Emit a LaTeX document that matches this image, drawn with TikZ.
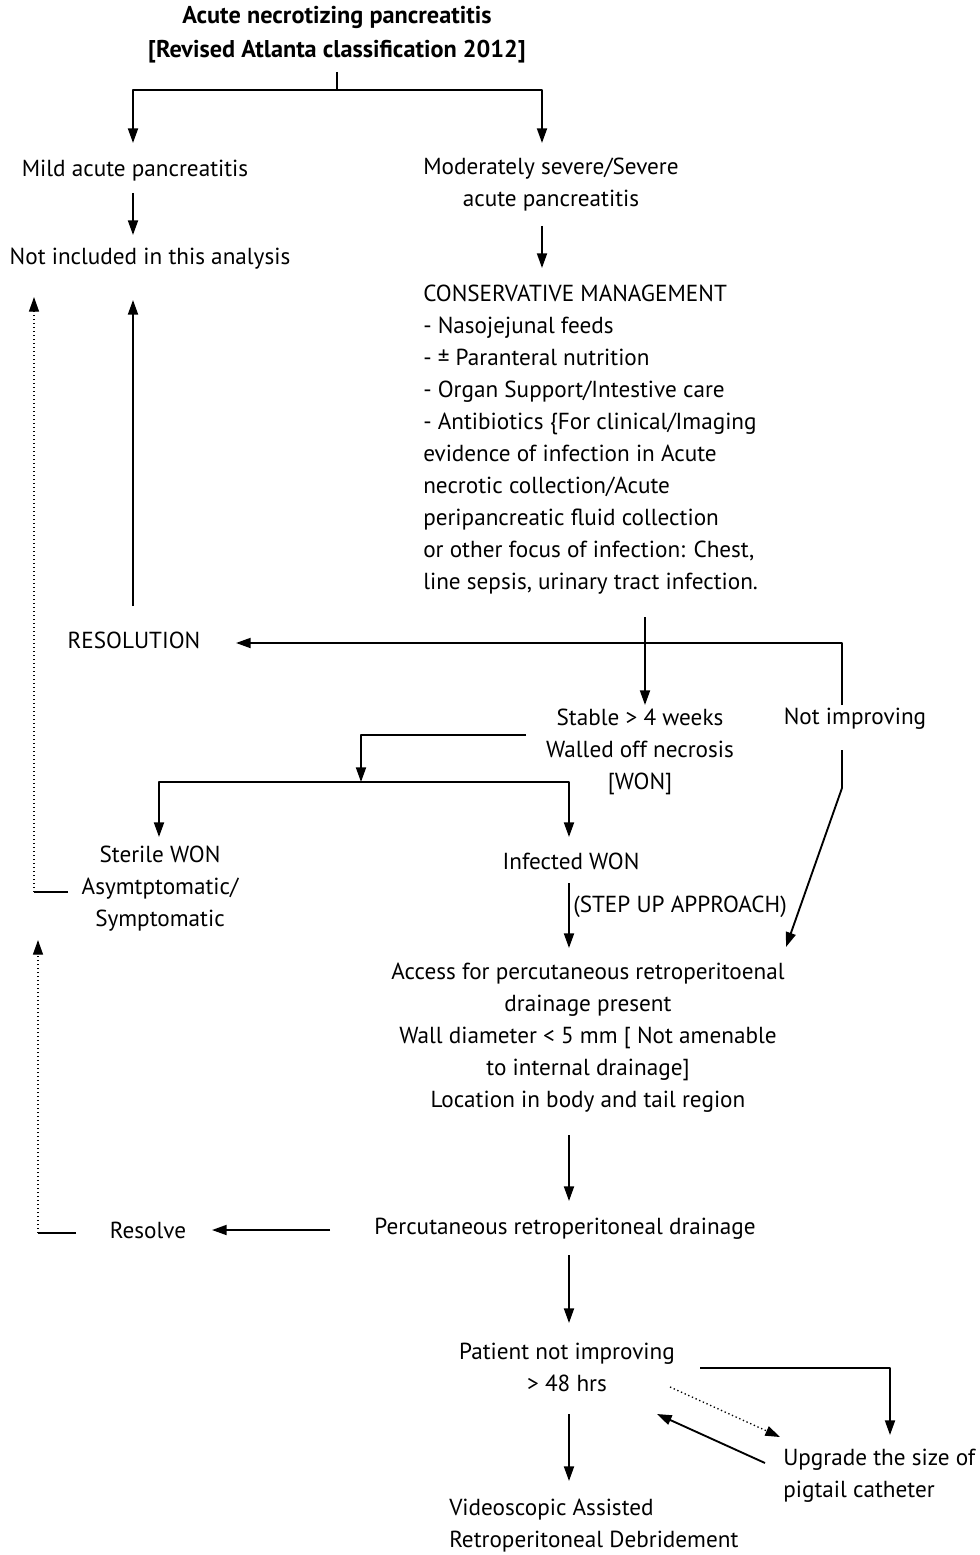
\documentclass[tikz,border=0pt]{standalone}
\usepackage{fontspec}
\setmainfont{PT Sans}
\usetikzlibrary{arrows.meta}

\begin{document}
\begin{tikzpicture}[x=0.75pt,y=-0.75pt,line join=round,>={Triangle[length=11pt,width=7.5pt]}]
	\tikzset{every node/.style={inner sep=0pt,font=\fontsize{17.4}{24}\selectfont},
		link/.style={line width=1.4pt},
		hint/.style={line width=1pt,dotted}}
	\useasboundingbox (0,0) rectangle (979,1555);
	% text blocks
	\node[align=center,font=\fontsize{18.2}{25.5}\selectfont\bfseries] (title) at (337,35) {Acute necrotizing pancreatitis\\{[}Revised Atlanta classification 2012]};
	\node (mild) at (135,171) {Mild acute pancreatitis};
	\node[align=center] (severe) at (551,185) {Moderately severe/Severe\\acute pancreatitis};
	\node (excl) at (150,259) {Not included in this analysis};
	\node[align=left,anchor=west] (cons) at (423,440) {CONSERVATIVE MANAGEMENT\\- Nasojejunal feeds\\- ± Paranteral nutrition\\- Organ Support/Intestive care\\- Antibiotics \{For clinical/Imaging\\evidence of infection in Acute\\necrotic collection/Acute\\peripancreatic fluid collection\\or other focus of infection: Chest,\\line sepsis, urinary tract infection.};
	\node (resol) at (134,640) {RESOLUTION};
	\node[align=center] (stable) at (640,752) {Stable > 4 weeks\\Walled off necrosis\\{[}WON]};
	\node (worse) at (855,719) {Not improving};
	\node[align=center] (sterile) at (160,889) {Sterile WON\\Asymtptomatic/\\Symptomatic};
	\node (infected) at (571,861) {Infected WON};
	\node[anchor=west] (stepup) at (573,907) {(STEP UP APPROACH)};
	\node[align=center] (access) at (588,1038) {Access for percutaneous retroperitoenal\\drainage present\\Wall diameter < 5 mm [ Not amenable\\to internal drainage]\\Location in body and tail region};
	\node (resolve) at (148,1230) {Resolve};
	\node (perc) at (565,1229) {Percutaneous retroperitoneal drainage};
	\node[align=center] (patient) at (567,1367) {Patient not improving\\> 48 hrs};
	\node[align=left,anchor=west] (upgrade) at (783,1476) {Upgrade the size of\\pigtail catheter};
	\node[align=left,anchor=west] (vard) at (449,1526) {Videoscopic Assisted\\Retroperitoneal Debridement};
	% connector ends
	\coordinate (t0) at (337,72);
	\coordinate (t1) at (337,90);
	\coordinate (mildin) at (133,143);
	\coordinate (sevin) at (542,143);
	\coordinate (mildout) at (133,193);
	\coordinate (exclin) at (133,235);
	\coordinate (sevout) at (542,226);
	\coordinate (consin) at (542,268);
	\coordinate (resup) at (133,606);
	\coordinate (exclbot) at (133,300);
	\coordinate (consout) at (645,617);
	\coordinate (split) at (645,643);
	\coordinate (resin) at (236,643);
	\coordinate (stablein) at (645,705);
	\coordinate (worsein) at (842,705);
	\coordinate (stableout) at (526,735);
	\coordinate (wonsplit) at (361,782);
	\coordinate (sterilein) at (159,837);
	\coordinate (infin) at (569,837);
	\coordinate (infout) at (569,883);
	\coordinate (accin) at (569,948);
	\coordinate (worseout) at (842,750);
	\coordinate (worsebend) at (842,788);
	\coordinate (accin2) at (786,947);
	\coordinate (sterileout) at (68,892);
	\coordinate (dot1) at (34,892);
	\coordinate (dot1top) at (34,297);
	\coordinate (accout) at (569,1135);
	\coordinate (percin) at (569,1201);
	\coordinate (percleft) at (330,1230);
	\coordinate (resolvein) at (212,1230);
	\coordinate (resolveout) at (76,1233);
	\coordinate (dot2) at (38,1233);
	\coordinate (dot2top) at (38,940);
	\coordinate (percout) at (569,1255);
	\coordinate (patin) at (569,1323);
	\coordinate (patright) at (700,1368);
	\coordinate (upin) at (890,1435);
	\coordinate (patdot) at (670,1387);
	\coordinate (updot) at (780,1437);
	\coordinate (upout) at (765,1463);
	\coordinate (patback) at (657,1414);
	\coordinate (patout) at (569,1414);
	\coordinate (vardin) at (569,1481);
	% connectors
	\draw[link] (t0) -- (t1);
	\draw[link,->] (t1) -| (mildin);
	\draw[link,->] (t1) -| (sevin);
	\draw[link,->] (mildout) -- (exclin);
	\draw[link,->] (sevout) -- (consin);
	\draw[link,->] (resup) -- (exclbot);
	\draw[link,->] (consout) -- (stablein);
	\draw[link,->] (worsein) |- (resin);
	\draw[link,->] (stableout) -| (wonsplit);
	\draw[link,->] (wonsplit) -| (sterilein);
	\draw[link,->] (wonsplit) -| (infin);
	\draw[link,->] (infout) -- (accin);
	\draw[link,->] (worseout) -- (worsebend) -- (accin2);
	\draw[link] (sterileout) -- (dot1);
	\draw[hint,->] (dot1) -- (dot1top);
	\draw[link,->] (accout) -- (percin);
	\draw[link,->] (percleft) -- (resolvein);
	\draw[link] (resolveout) -- (dot2);
	\draw[hint,->] (dot2) -- (dot2top);
	\draw[link,->] (percout) -- (patin);
	\draw[link,->] (patright) -| (upin);
	\draw[hint,->] (patdot) -- (updot);
	\draw[link,->] (upout) -- (patback);
	\draw[link,->] (patout) -- (vardin);
\end{tikzpicture}
\end{document}
